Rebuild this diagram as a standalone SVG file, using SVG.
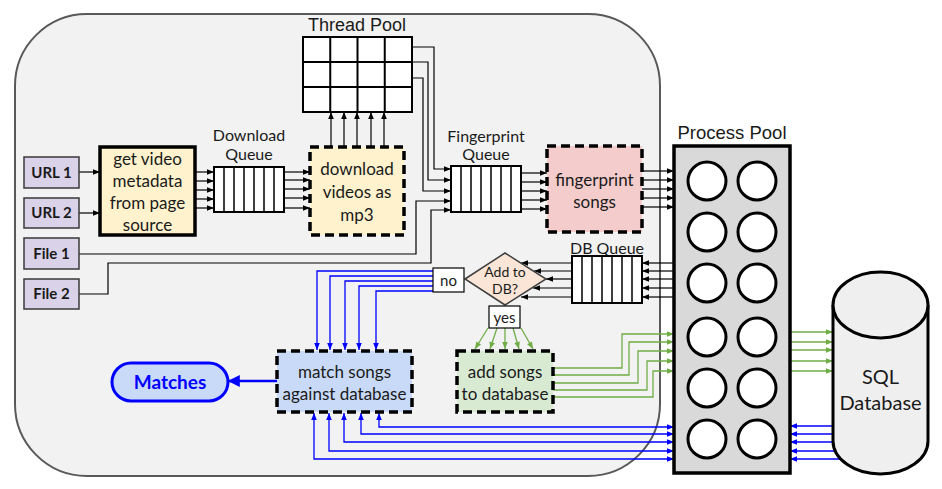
<svg xmlns="http://www.w3.org/2000/svg" width="942" height="489" viewBox="0 0 942 489">
<style>
text{font-family:Lato,"Liberation Sans",sans-serif;fill:#1a1a1a;text-anchor:middle}
.ar{font-family:"Liberation Sans",Arial,sans-serif}
.lbl{font-size:16px}
.big{font-size:17px}
.src{fill:#d9d2e9;stroke:#3a3a3a;stroke-width:1.5}
.srct{font-size:15px;font-weight:bold}
.dash{stroke:#000;stroke-width:3.5;stroke-dasharray:9 5}
.q{fill:#fff;stroke:#000;stroke-width:2}
.qi{stroke:#000;stroke-width:1.5}
.k{fill:none;stroke:#000;stroke-width:1.2;marker-end:url(#ab)}
.g{fill:none;stroke:#70ad47;stroke-width:1.3;marker-end:url(#ag)}
.b{fill:none;stroke:#0000ff;stroke-width:1.3;marker-end:url(#au)}
.bb{fill:none;stroke:#0000ff;stroke-width:1.3;marker-end:url(#au);marker-start:url(#au)}
.pc{fill:#fff;stroke:#000;stroke-width:3}
</style>
<defs>
<marker id="ab" viewBox="0 0 10 10" refX="10" refY="5" markerWidth="8" markerHeight="7" markerUnits="userSpaceOnUse" orient="auto-start-reverse"><path d="M0,1 L10,5 L0,9 z" fill="#000"/></marker>
<marker id="ag" viewBox="0 0 10 10" refX="10" refY="5" markerWidth="8" markerHeight="7" markerUnits="userSpaceOnUse" orient="auto-start-reverse"><path d="M0,1 L10,5 L0,9 z" fill="#70ad47"/></marker>
<marker id="au" viewBox="0 0 10 10" refX="10" refY="5" markerWidth="8" markerHeight="7" markerUnits="userSpaceOnUse" orient="auto-start-reverse"><path d="M0,1 L10,5 L0,9 z" fill="#0000ff"/></marker>
<marker id="aU" viewBox="0 0 10 10" refX="9" refY="5" markerWidth="13" markerHeight="12" markerUnits="userSpaceOnUse" orient="auto"><path d="M0,0 L10,5 L0,10 z" fill="#0000ff"/></marker>
</defs>
<rect width="942" height="489" fill="#fff"/>
<rect id="frame" x="15" y="14" width="645" height="462" rx="72" fill="#f2f2f2" stroke="#595959" stroke-width="2"/>

<g id="connectors">
<path class="k" d="M79,172 H100"/>
<path class="k" d="M79,213 H100"/>
<path class="k" d="M195,172 H214"/><path class="k" d="M195,181 H214"/><path class="k" d="M195,190 H214"/><path class="k" d="M195,199 H214"/><path class="k" d="M195,208 H214"/>
<path class="k" d="M284,172 H310"/><path class="k" d="M284,180 H310"/><path class="k" d="M284,189 H310"/><path class="k" d="M284,198 H310"/><path class="k" d="M284,208 H310"/>
<path class="k" d="M331,147 V112"/><path class="k" d="M344,147 V112"/><path class="k" d="M357,147 V112"/><path class="k" d="M371,147 V112"/><path class="k" d="M384,147 V112"/>
<path class="k" d="M412,47 H434 V169 H451"/>
<path class="k" d="M412,62 H428 V180 H451"/>
<path class="k" d="M412,78 H423 V191 H451"/>
<path class="k" d="M79,254 H416 V201 H451"/>
<path class="k" d="M79,294 H108 V263 H431 V210 H451"/>
<path class="k" d="M521,173 H547"/><path class="k" d="M521,182 H547"/><path class="k" d="M521,191 H547"/><path class="k" d="M521,200 H547"/><path class="k" d="M521,209 H547"/>
<path class="k" d="M642,171 H674"/><path class="k" d="M642,180 H674"/><path class="k" d="M642,189 H674"/><path class="k" d="M642,198 H674"/><path class="k" d="M642,207 H674"/>
<path class="k" d="M674,263 H642"/><path class="k" d="M674,271 H642"/><path class="k" d="M674,279 H642"/><path class="k" d="M674,288 H642"/><path class="k" d="M674,297 H642"/>
<path class="k" d="M572,263 H521"/><path class="k" d="M572,271 H534"/><path class="k" d="M572,279 H546"/><path class="k" d="M572,288 H533"/><path class="k" d="M572,297 H521"/>
<path class="b" d="M433,271 H317 V350"/>
<path class="b" d="M433,276 H330 V350"/>
<path class="b" d="M433,281 H345 V350"/>
<path class="b" d="M433,286 H359 V350"/>
<path class="b" d="M433,291 H376 V350"/>
<path class="g" d="M488,328 L475,349"/><path class="g" d="M497,328 L490,349"/><path class="g" d="M505,328 L505,349"/><path class="g" d="M513,328 L519,349"/><path class="g" d="M521,328 L533,349"/>
<path class="g" d="M553,368 H622 V334 H674"/>
<path class="g" d="M553,375 H629 V342 H674"/>
<path class="g" d="M553,383 H638 V351 H674"/>
<path class="g" d="M553,390 H647 V361 H674"/>
<path class="g" d="M553,397 H653 V371 H674"/>
<path class="g" d="M790,332 H833"/><path class="g" d="M790,342 H833"/><path class="g" d="M790,350 H833"/><path class="g" d="M790,361 H833"/><path class="g" d="M790,371 H833"/>
<path class="b" d="M833,426 H790"/><path class="b" d="M833,434 H790"/><path class="b" d="M833,442 H790"/><path class="b" d="M835,451 H790"/><path class="b" d="M841,459 H790"/>
<path class="bb" d="M379,413 V427 H674"/>
<path class="bb" d="M361,413 V434 H674"/>
<path class="bb" d="M344,413 V442 H674"/>
<path class="bb" d="M329,413 V451 H674"/>
<path class="bb" d="M314,413 V459 H674"/>
<path d="M277,381 H229" fill="none" stroke="#0000ff" stroke-width="2.5" marker-end="url(#aU)"/>
</g>

<g id="url1"><rect class="src" x="24" y="157" width="55" height="31"/><text class="srct" x="51.5" y="178">URL 1</text></g>
<g id="url2"><rect class="src" x="24" y="198" width="55" height="30"/><text class="srct" x="51.5" y="218">URL 2</text></g>
<g id="file1"><rect class="src" x="24" y="238" width="55" height="31"/><text class="srct" x="51.5" y="259">File 1</text></g>
<g id="file2"><rect class="src" x="24" y="279" width="55" height="30"/><text class="srct" x="51.5" y="299">File 2</text></g>

<g id="metadata"><rect x="100" y="147" width="95" height="88" fill="#fff2cc" stroke="#000" stroke-width="3.5"/>
<text class="big" x="147.5" y="165">get video</text><text class="big" x="147.5" y="187">metadata</text><text class="big" x="147.5" y="209">from page</text><text class="big" x="147.5" y="231">source</text></g>

<g id="download-queue"><text class="lbl" x="249" y="141">Download</text><text class="lbl" x="249" y="160">Queue</text>
<rect class="q" x="214" y="167" width="70" height="45"/>
<path class="qi" d="M224,167 V212 M234,167 V212 M244,167 V212 M254,167 V212 M264,167 V212 M274,167 V212"/></g>

<g id="download-videos"><rect class="dash" x="310" y="147" width="94" height="88" fill="#fff2cc"/>
<text class="big" x="357" y="175">download</text><text class="big" x="357" y="198">videos as</text><text class="big" x="357" y="221">mp3</text></g>

<g id="thread-pool"><text class="ar" x="357" y="31" font-size="18">Thread Pool</text>
<rect x="303" y="37" width="109" height="75" fill="#fff" stroke="#000" stroke-width="2"/>
<path d="M330.25,37 V112 M357.5,37 V112 M384.75,37 V112 M303,62 H412 M303,87 H412" stroke="#000" stroke-width="2"/></g>

<g id="fingerprint-queue"><text class="lbl" x="486" y="142">Fingerprint</text><text class="lbl" x="486" y="160">Queue</text>
<rect class="q" x="451" y="166" width="70" height="46"/>
<path class="qi" d="M461,166 V212 M471,166 V212 M481,166 V212 M491,166 V212 M501,166 V212 M511,166 V212"/></g>

<g id="fingerprint-songs"><rect class="dash" x="547" y="146" width="95" height="86" fill="#f4cccc"/>
<text class="big" x="594.5" y="186">fingerprint</text><text class="big" x="594.5" y="208">songs</text></g>

<g id="process-pool"><text class="ar" x="732" y="139" font-size="18.5">Process Pool</text>
<rect x="674" y="146" width="116" height="327" fill="#d9d9d9" stroke="#000" stroke-width="3.5"/>
<circle class="pc" cx="707" cy="181" r="19"/><circle class="pc" cx="757" cy="181" r="19"/>
<circle class="pc" cx="707" cy="232" r="19"/><circle class="pc" cx="757" cy="232" r="19"/>
<circle class="pc" cx="707" cy="283" r="19"/><circle class="pc" cx="757" cy="283" r="19"/>
<circle class="pc" cx="707" cy="337" r="19"/><circle class="pc" cx="757" cy="337" r="19"/>
<circle class="pc" cx="707" cy="388" r="19"/><circle class="pc" cx="757" cy="388" r="19"/>
<circle class="pc" cx="707" cy="439" r="19"/><circle class="pc" cx="757" cy="439" r="19"/></g>

<g id="db-queue"><text class="lbl" x="607" y="254">DB Queue</text>
<rect class="q" x="572" y="256" width="70" height="47"/>
<path class="qi" d="M582,256 V303 M592,256 V303 M602,256 V303 M612,256 V303 M622,256 V303 M632,256 V303"/></g>

<g id="add-to-db"><polygon points="465,279 505,253 546,279 505,305" fill="#fbe5d6" stroke="#404040" stroke-width="1.5"/>
<text x="505" y="277" font-size="14">Add to</text><text x="505" y="294" font-size="14">DB?</text></g>

<g id="no"><rect x="433" y="268" width="31" height="24" fill="#fff" stroke="#000" stroke-width="1.2"/><text x="448.5" y="286" font-size="15">no</text></g>
<g id="yes"><rect x="489" y="306" width="31" height="22" fill="#fff" stroke="#000" stroke-width="1.2"/><text x="504.5" y="323" font-size="15">yes</text></g>

<g id="match-songs"><rect class="dash" x="277" y="351" width="135" height="61" fill="#c9daf8"/>
<text class="big" x="344.5" y="378">match songs</text><text class="big" x="344.5" y="400">against database</text></g>

<g id="add-songs"><rect class="dash" x="457" y="351" width="96" height="61" fill="#d9ead3"/>
<text class="big" x="505" y="378">add songs</text><text class="big" x="505" y="400">to database</text></g>

<g id="matches"><rect x="112" y="363" width="116" height="38" rx="19" fill="#c9daf8" stroke="#0000ff" stroke-width="3"/>
<text x="170" y="389" font-size="19" font-weight="bold" style="fill:#0000ff">Matches</text></g>

<g id="sql-database"><path d="M833,305 V441 A47.5,33 0 0 0 928,441 V305" fill="#efefef" stroke="#000" stroke-width="3"/>
<ellipse cx="880.5" cy="305" rx="47.5" ry="33" fill="#efefef" stroke="#000" stroke-width="3"/>
<text x="880.5" y="384" font-size="20">SQL</text><text x="880.5" y="410" font-size="20">Database</text></g>
</svg>
